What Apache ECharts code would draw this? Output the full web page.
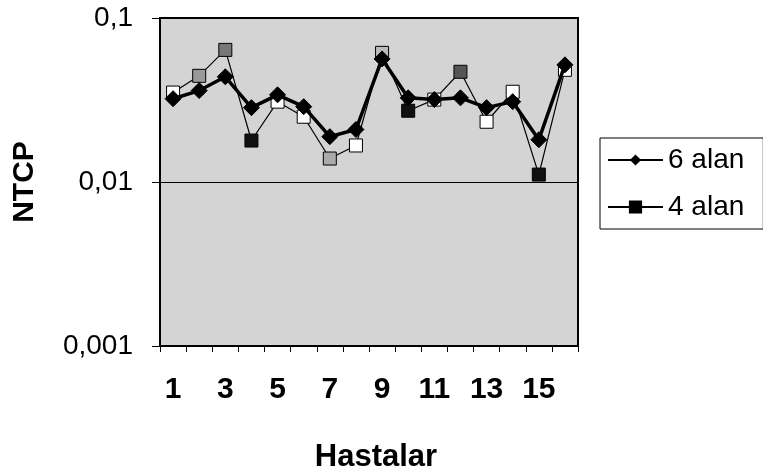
<!DOCTYPE html>
<html><head><meta charset="utf-8">
<script src="https://cdn.jsdelivr.net/npm/echarts@6/dist/echarts.min.js"></script>
<style>html,body{margin:0;padding:0;background:#fff}#c{width:763px;height:468px}</style>
</head><body><div id="c"></div>
<script>
var categories = ['1','2','3','4','5','6','7','8','9','10','11','12','13','14','15','16'];
var alan6 = [0.0322,0.0361,0.0438,0.0284,0.0340,0.0288,0.0189,0.0209,0.0563,0.0326,0.0318,0.0326,0.0284,0.0309,0.0181,0.0518];
var alan4 = [0.0351,0.0444,0.0639,0.0179,0.0309,0.0250,0.0139,0.0167,0.0613,0.0272,0.0318,0.0470,0.0233,0.0355,0.0111,0.0483];
var yTicks = {0.1:'0,1', 0.01:'0,01', 0.001:'0,001'};
var seriesNames = ['6 alan','4 alan'];
var squareFill = ['#fff','#999','#777','#111','#fff','#fff','#aaa','#fff','#bbb','#111','#fff','#555','#fff','#fff','#111','#fff'];

var chart = echarts.init(document.getElementById('c'));
chart.setOption({
  animation:false,
  textStyle:{fontFamily:'Liberation Sans, Arial, sans-serif'},
  grid:{left:160,top:18,right:185,bottom:122,show:true,outerBoundsMode:'none',containLabel:false,
    backgroundColor:'#d4d4d4',borderColor:'#000',borderWidth:2},
  legend:{orient:'vertical',left:600,top:138,padding:[8,19,8,7],itemGap:19,itemWidth:55,itemHeight:14,
    borderColor:'#000',borderWidth:1,backgroundColor:'#fff',
    textStyle:{fontSize:28,color:'#000',fontFamily:'Liberation Sans, Arial, sans-serif'},
    data:[{name:seriesNames[0]},{name:seriesNames[1],itemStyle:{color:'#000'}}]},
  xAxis:{type:'category',data:categories,boundaryGap:true,
    name:'Hastalar',nameLocation:'middle',nameGap:96,
    nameTextStyle:{fontSize:31,fontWeight:'bold',color:'#000',padding:[0,0,0,14]},
    axisLine:{lineStyle:{color:'#000',width:2}},
    axisTick:{show:true,alignWithLabel:false,interval:0,length:6,lineStyle:{color:'#000'}},
    axisLabel:{interval:1,fontSize:30,fontWeight:'bold',color:'#000',margin:29},
    splitLine:{show:false}},
  yAxis:{type:'log',logBase:10,min:0.001,max:0.1,
    name:'NTCP',nameLocation:'middle',nameGap:120,nameRotate:90,
    nameTextStyle:{fontSize:30,fontWeight:'bold',color:'#000'},
    axisLine:{show:true,lineStyle:{color:'#000',width:2}},
    axisTick:{show:true,length:8,lineStyle:{color:'#000'}},
    minorTick:{show:false},
    axisLabel:{fontSize:28,color:'#000',margin:27,formatter:function(v){
      var k = Object.keys(yTicks).find(function(t){return Math.abs(Math.log10(+t)-Math.log10(v))<0.01;});
      return k!==undefined ? yTicks[k] : '';}},
    splitLine:{show:true,lineStyle:{color:'#000',width:1}}},
  series:[
    {name:seriesNames[0],type:'line',data:alan6,symbol:'diamond',symbolSize:16,z:3,
     lineStyle:{color:'#000',width:3.5},itemStyle:{color:'#000',borderColor:'#000'}},
    {name:seriesNames[1],type:'line',data:alan4,symbol:'rect',symbolSize:13,z:2,
     lineStyle:{color:'#000',width:1.2},
     itemStyle:{color:function(p){return squareFill[p.dataIndex];},borderColor:'#000',borderWidth:1}}
  ]
});
</script></body></html>
